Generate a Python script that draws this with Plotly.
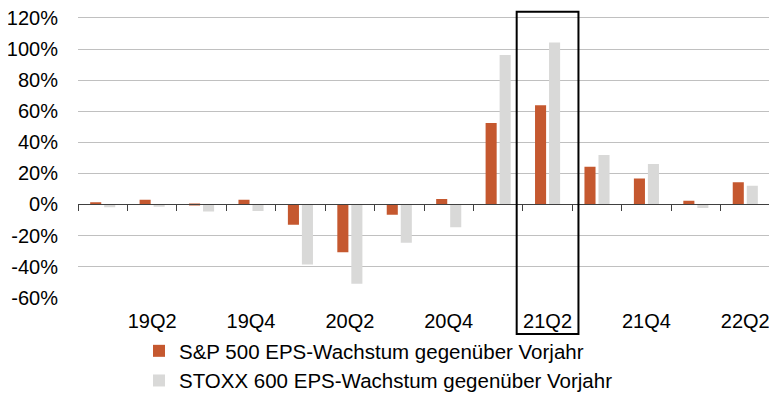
import plotly.graph_objects as go

categories = ["19Q1", "19Q2", "19Q3", "19Q4", "20Q1", "20Q2", "20Q3",
              "20Q4", "21Q1", "21Q2", "21Q3", "21Q4", "22Q1", "22Q2"]
tick_labels = ["", "19Q2", "", "19Q4", "", "20Q2", "",
               "20Q4", "", "21Q2", "", "21Q4", "", "22Q2"]
sp500 = [1.5, 3.0, 0.1, 3.0, -13.0, -30.8, -6.6,
         3.6, 52.5, 63.8, 24.2, 16.7, 2.4, 14.3]
stoxx = [-1.8, -1.5, -4.5, -4.2, -38.6, -51.0, -24.6,
         -14.6, 96.2, 104.3, 31.9, 26.1, -2.3, 12.0]
y_ticks = [-60, -40, -20, 0, 20, 40, 60, 80, 100, 120]
y_tick_text = ["-60%", "-40%", "-20%", "0%", "20%", "40%", "60%", "80%", "100%", "120%"]
name_sp = "S&P 500 EPS-Wachstum gegenüber Vorjahr"
name_stoxx = "STOXX 600 EPS-Wachstum gegenüber Vorjahr"
highlight = "21Q2"

FONT = "Arial, Liberation Sans, sans-serif"
OFF = 8  # page body margin offset
W, H = 777, 394 + 16  # a little taller than the window so the legend never pushes margins
ymin, ymax = y_ticks[0], y_ticks[-1]
pad_top = 1.0  # small headroom so the top gridline is kept
px_per_unit = (297.7 - 18) / (ymax - ymin)
plot_top_px = 18 - OFF - pad_top * px_per_unit
plot_bottom_px = 297.7 - OFF
y_dom = [(H - plot_bottom_px) / H, (H - plot_top_px) / H]
ML, MR = 78 - OFF, W - (770 - OFF)
PW = W - ML - MR

fig = go.Figure()
fig.add_trace(go.Bar(x=categories, y=sp500, name=name_sp,
                     marker=dict(color="#C5582F", line=dict(width=0))))
fig.add_trace(go.Bar(x=categories, y=stoxx, name=name_stoxx,
                     marker=dict(color="#D9D9D8", line=dict(width=0))))
# helper trace so the zero-crossing tick axis is drawn
fig.add_trace(go.Scatter(x=[0], y=[0], xaxis="x2", mode="markers",
                         marker=dict(opacity=0), showlegend=False, hoverinfo="skip"))

zero_pos = y_dom[0] + (0 - ymin) / (ymax + pad_top - ymin) * (y_dom[1] - y_dom[0])

idx = categories.index(highlight)
fig.add_shape(type="rect", xref="x", yref="paper",
              x0=idx - 0.625, x1=idx + 0.625,
              y0=(H - (334 - OFF)) / H, y1=(H - (11.7 - OFF)) / H,
              line=dict(color="black", width=2), fillcolor="rgba(0,0,0,0)", layer="above")

fig.update_layout(
    width=W, height=H,
    margin=dict(l=ML, r=MR, t=0, b=0),
    paper_bgcolor="white", plot_bgcolor="white",
    font=dict(family=FONT, size=20, color="black"),
    barmode="group", bargap=0.433, bargroupgap=0.21,
    showlegend=True,
    legend=dict(orientation="v",
                x=(139 - OFF - ML) / PW, xanchor="left",
                y=(H - (331 - OFF)) / H, yanchor="top",
                font=dict(size=20.5, family=FONT, color="black"),
                itemwidth=30, bgcolor="rgba(0,0,0,0)", tracegroupgap=0),
    xaxis=dict(type="category", categoryorder="array", categoryarray=categories,
               tickmode="array", tickvals=categories, ticktext=tick_labels,
               ticks="", showline=False, showgrid=False, zeroline=False, automargin=False,
               ticklabelstandoff=9, tickfont=dict(size=20, family=FONT, color="black")),
    xaxis2=dict(overlaying="x", anchor="free", position=zero_pos, type="linear",
                range=[-0.5, len(categories) - 0.5], tickmode="linear", tick0=-0.5, dtick=1,
                ticks="outside", ticklen=6, tickwidth=1, tickcolor="#404040",
                showticklabels=False, showgrid=False, zeroline=False, automargin=False,
                showline=True, linecolor="#404040", linewidth=1),
    yaxis=dict(domain=y_dom, range=[ymin, ymax + pad_top], tickmode="array", tickvals=y_ticks,
               ticktext=y_tick_text, automargin=False, ticklabeloverflow="allow",
               showgrid=True, gridcolor="#C0C0C0", gridwidth=1, zeroline=False,
               showline=False, ticks="", ticklabelstandoff=19,
               tickfont=dict(size=20, family=FONT, color="black")),
)

fig.write_html("out.html")
